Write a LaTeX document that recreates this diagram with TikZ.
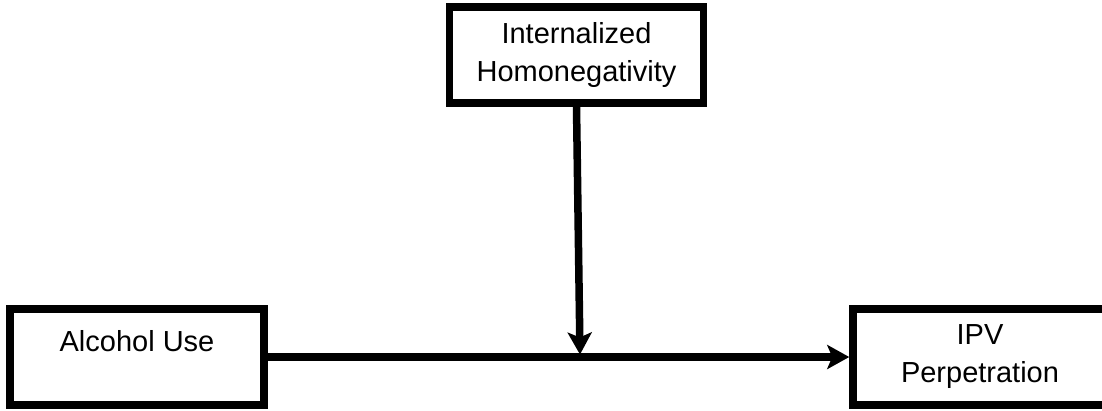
\documentclass[tikz,border=0pt]{standalone}
\usepackage{fontspec}
\setmainfont{Liberation Sans}
\usetikzlibrary{arrows.meta,positioning,calc}
\tikzset{
  vbox/.style={draw=black,fill=white,line width=7.5pt,
               minimum width=254pt,minimum height=96pt,
               font=\fontsize{29}{38}\selectfont,align=center,inner sep=0pt},
  arr/.style={-{Stealth[length=22pt,width=24pt,inset=5pt]},black,line width=7.5pt},
}
\begin{document}
\begin{tikzpicture}[x=1pt,y=1pt]
  \useasboundingbox (0,0) rectangle (1102,410);
  % moderator on top, predictor left, outcome right (1 unit = 1 px)
  \node[vbox] (hom) at (576.5,355) {Internalized\\Homonegativity};
  \node[vbox, text height=20pt, text depth=30.5pt] (alc) at (137,53) {Alcohol Use};
  \node[vbox] (ipv) at (980,53) {IPV\\Perpetration};
  \coordinate (mod) at (580,55.5);

  \draw[arr] (alc.east) -- (ipv.west);
  \draw[arr] (hom.south) -- (mod);
\end{tikzpicture}
\end{document}
